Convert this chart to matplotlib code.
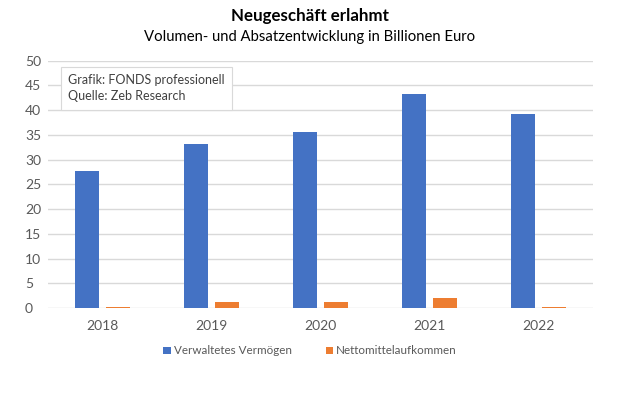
import numpy as np
import matplotlib
matplotlib.use('Agg')
import matplotlib.pyplot as plt

plt.rcParams['font.family'] = ['Lato', 'DejaVu Sans']

# Data (Billionen Euro)
years = ['2018', '2019', '2020', '2021', '2022']
vermoegen = [27.8, 33.2, 35.6, 43.2, 39.2]
netto = [0.2, 1.15, 1.15, 2.0, 0.3]

blue = '#4472c4'
orange = '#ed7d31'
grey_text = '#595959'

fig = plt.figure(figsize=(6.2, 4.13), dpi=100)
ax = fig.add_axes([48 / 620, 105 / 413, 545 / 620, 247.3 / 413])

x = np.arange(len(years))
width = 0.22
offset = 0.142
ax.bar(x - offset, vermoegen, width, color=blue, label='Verwaltetes Vermögen', zorder=3)
ax.bar(x + offset, netto, width, color=orange, label='Nettomittelaufkommen', zorder=3)

ax.set_xlim(-0.5, len(years) - 0.5)
ax.set_ylim(0, 50)
ax.set_yticks(range(0, 51, 5))
ax.set_xticks(x)
ax.set_xticklabels(years)
ax.grid(axis='y', color='#d9d9d9', linewidth=1, zorder=0)
for s in ax.spines.values():
    s.set_visible(False)
ax.tick_params(axis='both', length=0, labelsize=10, colors=grey_text)
ax.tick_params(axis='y', pad=16.5)
ax.tick_params(axis='x', pad=9)
for lbl in ax.get_yticklabels():
    lbl.set_horizontalalignment('left')

# Title
fig.text(0.5, 1 - 16 / 413, 'Neugeschäft erlahmt', ha='center', va='center',
         fontsize=12.2, fontweight='bold', color='black')
fig.text(0.5, 1 - 37 / 413, 'Volumen- und Absatzentwicklung in Billionen Euro', ha='center',
         va='center', fontsize=10.7, color='black')

# Source box
fig.text(68 / 620, 1 - 88 / 413, 'Grafik: FONDS professionell\nQuelle: Zeb Research',
         ha='left', va='center', fontsize=9, color='#404040', linespacing=1.4,
         bbox=dict(boxstyle='square,pad=0.6', facecolor='white', edgecolor='#d9d9d9', linewidth=0.8))

leg = fig.legend(loc='center', bbox_to_anchor=(0.5, 1 - 351 / 413), ncol=2, frameon=False,
                 fontsize=8.4, handlelength=0.65, handleheight=0.65, handletextpad=0.25,
                 columnspacing=2.9)
for t in leg.get_texts():
    t.set_color(grey_text)

fig.savefig('out.png', dpi=100)
